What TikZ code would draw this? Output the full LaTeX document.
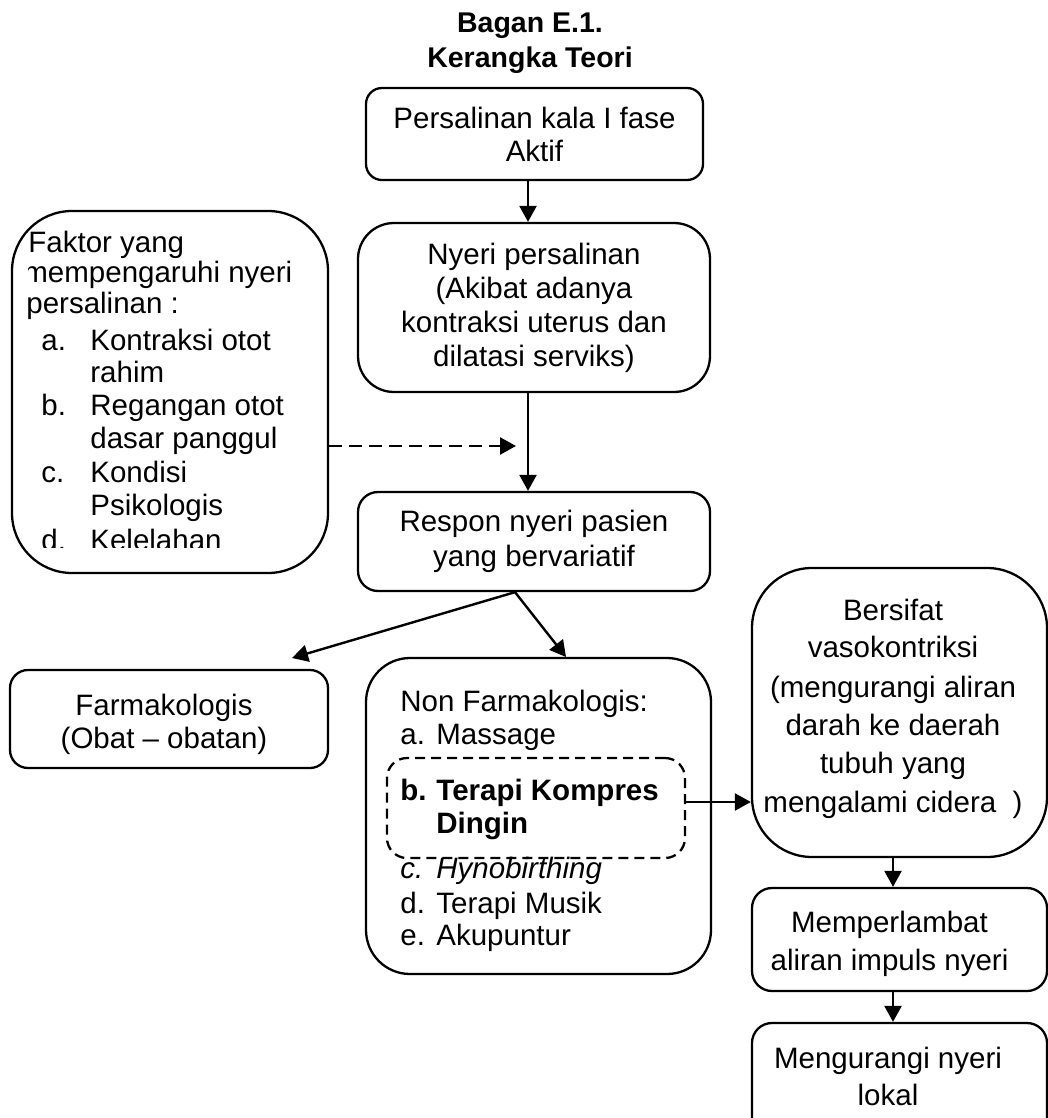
\documentclass[tikz,border=0pt]{standalone}
\usepackage{fontspec}
\setmainfont{Liberation Sans}
\usetikzlibrary{arrows.meta}
\newcommand\fsz[1]{\fontsize{14.75pt}{#1}\selectfont}
\begin{document}
\begin{tikzpicture}[x=0.5pt,y=-0.5pt,
  box/.style={draw, line width=1.15pt, rounded corners=#1, inner sep=0pt, align=center},
  box/.default=8pt,
  arr/.style={-{Triangle[length=8pt,width=8.5pt]}, line width=1.2pt},
  ttl/.style={inner sep=0pt, anchor=base, font=\fontsize{14.25pt}{17pt}\selectfont\bfseries},
  ln/.style={inner sep=0pt, anchor=base, font=\fsz{16pt}},
  lnw/.style={inner sep=0pt, anchor=base west, font=\fsz{16pt}},
]
\useasboundingbox (0,0) rectangle (1048,1118);

% title
\node[ttl] (t1) at (530,33) {Bagan E.1.};
\node[ttl] (t2) at (530,68) {Kerangka Teori};

% boxes
\node[box=8pt, minimum width=168.5pt, minimum height=46pt, font=\fsz{16.5pt}] (top) at (534.5,134) {Persalinan kala I fase\\Aktif};
\node[box=18pt, minimum width=176pt, minimum height=84.5pt, font=\fsz{17pt}] (nyeri) at (534,307.5) {Nyeri persalinan\\(Akibat adanya\\kontraksi uterus dan\\dilatasi serviks)};
\node[box=10pt, minimum width=176pt, minimum height=49.5pt, font=\fsz{17.5pt}] (respon) at (534,541.5) {Respon nyeri pasien\\yang bervariatif};
\node[box=30pt, minimum width=158pt, minimum height=181pt] (faktor) at (170,392) {};
\node[box=9pt, minimum width=159pt, minimum height=49pt] (farm) at (169,719) {};
\node[box=22pt, minimum width=172.5pt, minimum height=158pt] (nonfarm) at (538.5,816) {};
\node[box=10pt, dashed, dash pattern=on 5pt off 3pt, minimum width=149pt, minimum height=50pt] (kompres) at (536,808) {};
\node[box=30pt, minimum width=147.5pt, minimum height=144.5pt] (sifat) at (899.5,712.5) {};
\node[box=10pt, minimum width=147.5pt, minimum height=51.5pt] (lambat) at (899.5,939.5) {};
\node[box=10pt, minimum width=147.5pt, minimum height=58.5pt] (kurang) at (899.5,1081.5) {};

% farmakologis text
\node[ln] (fa1) at (164,715) {Farmakologis};
\node[ln] (fa2) at (164,748) {(Obat \textendash{} obatan)};

% faktor text (clipped)
\begin{scope}
\clip (28.5,215) rectangle (326,547);
\node[lnw] (f1) at (28,252) {Faktor yang};
\node[lnw] (f2) at (23,282) {mempengaruhi nyeri};
\node[lnw] (f3) at (26,313) {persalinan :};
\node[lnw] (f4) at (41,350) {\makebox[24.5pt][l]{a.}Kontraksi otot};
\node[lnw] (f5) at (90,382) {rahim};
\node[lnw] (f6) at (41,415) {\makebox[24.5pt][l]{b.}Regangan otot};
\node[lnw] (f7) at (90,448) {dasar panggul};
\node[lnw] (f8) at (41,482) {\makebox[24.5pt][l]{c.}Kondisi};
\node[lnw] (f9) at (90,515) {Psikologis};
\node[lnw] (f10) at (41,550) {\makebox[24.5pt][l]{d.}Kelelahan};
\end{scope}

% non farmakologis text
\node[lnw] (n1) at (400,711) {Non Farmakologis:};
\node[lnw] (n2) at (400,744) {\makebox[18pt][l]{a.}Massage};
\node[lnw] (n3) at (400,800) {\bfseries\makebox[18pt][l]{b.}Terapi Kompres};
\node[lnw] (n4) at (436,833) {\bfseries Dingin};
\node[lnw] (n5) at (400,878) {\itshape\makebox[18pt][l]{c.}Hynobirthing};
\node[lnw] (n6) at (400,913) {\makebox[18pt][l]{d.}Terapi Musik};
\node[lnw] (n7) at (400,945) {\makebox[18pt][l]{e.}Akupuntur};

% right column text
\node[ln] (s1) at (893,620) {Bersifat};
\node[ln] (s2) at (893,657) {vasokontriksi};
\node[ln] (s3) at (893,697) {(mengurangi aliran};
\node[ln] (s4) at (893,735) {darah ke daerah};
\node[ln] (s5) at (893,773) {tubuh yang};
\node[ln] (s6) at (893,812) {mengalami cidera\ \ )};
\node[ln] (m1) at (889.5,932) {Memperlambat};
\node[ln] (m2) at (889.5,970) {aliran impuls nyeri};
\node[ln] (k1) at (888,1068) {Mengurangi nyeri};
\node[ln] (k2) at (888,1105) {lokal};

% connectors
\coordinate (ax) at (528,0);
\draw[arr] (top.south -| ax) -- (nyeri.north -| ax);
\draw[arr] (nyeri.south -| ax) -- (respon.north -| ax);
\coordinate (dend) at (516,446);
\draw[arr, dash pattern=on 6.5pt off 3.5pt] (faktor.east |- dend) -- (dend);
\coordinate (rs) at (515,0);
\coordinate (fa) at (292,658);
\coordinate (nf) at (566,657);
\draw[arr] (respon.south -| rs) -- (fa);
\draw[arr] (respon.south -| rs) -- (nf);
\coordinate (ky) at (0,802);
\draw[arr] (kompres.east |- ky) -- (sifat.west |- ky);
\coordinate (bx) at (893,0);
\draw[arr] (sifat.south -| bx) -- (lambat.north -| bx);
\draw[arr] (lambat.south -| bx) -- (kurang.north -| bx);
\end{tikzpicture}
\end{document}
